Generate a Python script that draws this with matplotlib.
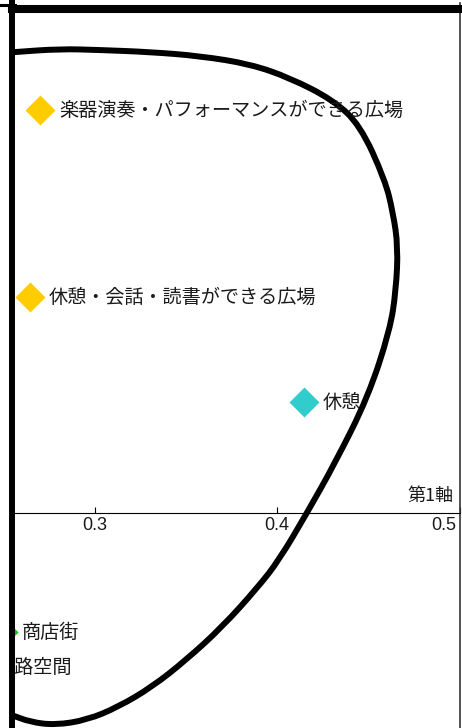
import numpy as np
import matplotlib
matplotlib.use('Agg')
import matplotlib.pyplot as plt
from matplotlib.path import Path
from matplotlib.patches import PathPatch
from matplotlib.lines import Line2D

plt.rcParams['font.family'] = ['Noto Sans CJK JP', 'DejaVu Sans']

# 点 (第1軸, 第2軸)
labels = ['楽器演奏・パフォーマンスができる広場', '休憩・会話・読書ができる広場', '休憩', '商店街', '道路空間']
x_vals = [0.2701, 0.2647, 0.4148, 0.2499, 0.2351]
y_vals = [0.2208, 0.1184, 0.0608, -0.0652, -0.0849]
colors = ['#FFCC00', '#FFCC00', '#33CCCC', '#00CC00', '#00CC00']

# グループを囲む線 (読み取った輪郭)
ring_x = [0.2373, 0.2564, 0.2811, 0.3030, 0.3304, 0.3578, 0.3852, 0.4071, 0.4307,
          0.4455, 0.4592, 0.4636, 0.4663, 0.4652, 0.4619, 0.4499, 0.4318, 0.4164,
          0.4011, 0.3896, 0.3699, 0.3501, 0.3315, 0.3129, 0.2959, 0.2784, 0.2647,
          0.2548, 0.2373]
ring_y = [0.2510, 0.2526, 0.2543, 0.2537, 0.2526, 0.2504, 0.2460, 0.2384, 0.2263,
          0.2126, 0.1825, 0.1644, 0.1458, 0.1222, 0.1003, 0.0636, 0.0274, 0.0,
          -0.0258, -0.0406, -0.0625, -0.0806, -0.0953, -0.1063, -0.1134, -0.1162, -0.1145,
          -0.1107, -0.1052]

ticks = [0.3, 0.4, 0.5]
tick_labels = ['0.3', '0.4', '0.5']

fig = plt.figure(figsize=(4.62, 7.28), dpi=100)
ax = fig.add_axes([12/462, 0, (460-12)/462, 725/728])
ax.set_xlim(0.25479, 0.50027)
ax.set_ylim(-0.11781, 0.27945)

# 輪郭: 点を制御点にした滑らかな閉曲線
pts = np.column_stack([ring_x, ring_y])
n = len(pts)
mids = (pts + np.roll(pts, -1, axis=0)) / 2
verts = [mids[-1]]
codes = [Path.MOVETO]
for i in range(n):
    verts += [pts[i], mids[i]]
    codes += [Path.CURVE3, Path.CURVE3]
ax.add_patch(PathPatch(Path(verts, codes), fill=False, lw=4.3, ec='black', zorder=3))

for lab, x, y, c in zip(labels, x_vals, y_vals, colors):
    ax.plot(x, y, 'D', ms=15, color=c, mec='none', zorder=2)
    ax.annotate(lab, (x, y), xytext=(19, 0), textcoords='offset pixels',
                ha='left', va='center', fontsize=13.8, color='#1a1a1a',
                annotation_clip=False, clip_on=True, zorder=4)

# 軸
ax.spines['top'].set_visible(False)
ax.spines['left'].set_linewidth(4.3)
ax.spines['left'].set_zorder(5)
ax.spines['right'].set_linewidth(1.2)
ax.spines['right'].set_color('#333333')
ax.spines['bottom'].set_position(('data', 0))
ax.spines['bottom'].set_linewidth(0.8)
ax.set_yticks([])
ax.set_xticks(ticks)
ax.tick_params(axis='x', direction='in', length=4, width=0.8, labelbottom=False)
for i, (t, tl) in enumerate(zip(ticks, tick_labels)):
    last = i == len(ticks) - 1
    ax.annotate(tl, (t, 0), xytext=(-3 if last else 0, -4), textcoords='offset pixels',
                ha='right' if last else 'center', va='top', fontsize=13,
                family='Liberation Sans', color='#1a1a1a', annotation_clip=False)
ax.annotate('第1軸', xy=(1, 0), xycoords=('axes fraction', 'data'), xytext=(-7, 17),
            textcoords='offset pixels', ha='right', va='center', fontsize=13, color='#1a1a1a')

# 上の枠線
fig.add_artist(Line2D([12/462, 1], [1 - 9/728] * 2, lw=5.8, color='black'))
fig.add_artist(Line2D([0, 15/462], [1 - 4.5/728] * 2, lw=2.2, color='black'))

fig.savefig('out.png', dpi=100)
